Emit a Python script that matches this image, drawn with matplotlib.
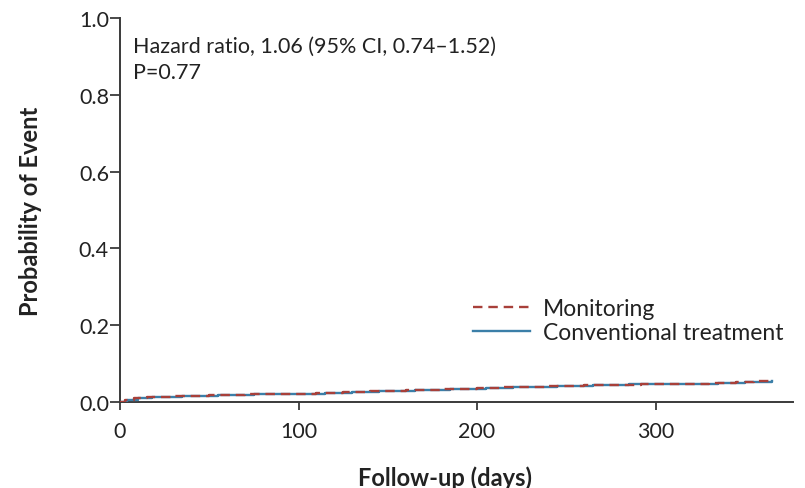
import matplotlib
matplotlib.use("Agg")
import matplotlib.pyplot as plt

# ---- data ----
mon_days = [0, 3, 8, 15, 30, 50, 70, 90, 110, 125, 140, 160, 180, 200, 215, 240, 260, 280, 292, 310, 330, 345, 355, 365]
mon_prob = [0.0, 0.004, 0.010, 0.013, 0.015, 0.018, 0.020, 0.022, 0.023, 0.025, 0.029, 0.031, 0.033, 0.036, 0.038, 0.041, 0.043, 0.045, 0.048, 0.048, 0.049, 0.052, 0.054, 0.055]
con_days = [0, 4, 10, 18, 35, 55, 75, 95, 115, 130, 145, 165, 185, 205, 220, 245, 265, 285, 295, 315, 335, 350, 360, 365]
con_prob = [0.0, 0.005, 0.011, 0.013, 0.016, 0.018, 0.020, 0.022, 0.024, 0.026, 0.029, 0.031, 0.033, 0.036, 0.039, 0.042, 0.044, 0.046, 0.048, 0.048, 0.050, 0.052, 0.053, 0.055]

x_ticks = [0, 100, 200, 300]
y_ticks = [0.0, 0.2, 0.4, 0.6, 0.8, 1.0]
y_tick_labels = ["0.0", "0.2", "0.4", "0.6", "0.8", "1.0"]
series_names = ["Monitoring", "Conventional treatment"]
annot_lines = ["Hazard ratio, 1.06 (95% CI, 0.74\u20131.52)", "P=0.77"]

plt.rcParams['font.family'] = ['Lato', 'DejaVu Sans']

W, H = 805, 489
fig = plt.figure(figsize=(W / 100, H / 100), dpi=100)
ax = fig.add_axes([120 / W, 1 - 403 / H, 673 / W, 384 / H])

ax.step(con_days, con_prob, where='post', color='#3b7fa8', lw=1.7, label=series_names[1], zorder=3)
ax.step(mon_days, mon_prob, where='post', color='#a8403a', lw=1.7, ls=(0, (4, 2.5)), label=series_names[0], zorder=4)

ax.set_xlim(0, 377)
ax.set_ylim(0, 1.0)
ax.set_xticks(x_ticks)
ax.set_yticks(y_ticks)
ax.set_yticklabels(y_tick_labels)

for s in ['top', 'right']:
    ax.spines[s].set_visible(False)
for s in ['left', 'bottom']:
    ax.spines[s].set_color('#3a3a3a')
    ax.spines[s].set_linewidth(1.4)

ax.tick_params(axis='both', direction='out', colors='#3a3a3a', labelcolor='#222222',
               labelsize=15.5, width=1.3)
ax.tick_params(axis='y', length=7, pad=1)
ax.tick_params(axis='x', length=6, pad=8)

ax.set_xlabel("Follow-up (days)", fontsize=17, fontweight='bold', color='#222222', va='center')
ax.xaxis.set_label_coords((445 - 120) / 673, -(478 - 403) / 384)
ax.set_ylabel("Probability of Event", fontsize=17, fontweight='bold', color='#222222', va='center')
ax.yaxis.set_label_coords((30 - 120) / 673, (403 - 211) / 384)

fig.text(133 / W, 1 - 47 / H, annot_lines[0], fontsize=15.5, color='#222222', va='center', ha='left')
fig.text(133 / W, 1 - 73 / H, annot_lines[1], fontsize=15.5, color='#222222', va='center', ha='left')

handles, labels = ax.get_legend_handles_labels()
order = [1, 0]
leg = fig.legend([handles[i] for i in order], [labels[i] for i in order],
                 loc='center left', bbox_to_anchor=(473 / W, 1 - 321.5 / H), frameon=False,
                 fontsize=16.5, handlelength=2.5, handletextpad=0.55, labelspacing=0.12,
                 borderpad=0.0, borderaxespad=0.0)
for t in leg.get_texts():
    t.set_color('#222222')

fig.savefig("out.png", dpi=100)
